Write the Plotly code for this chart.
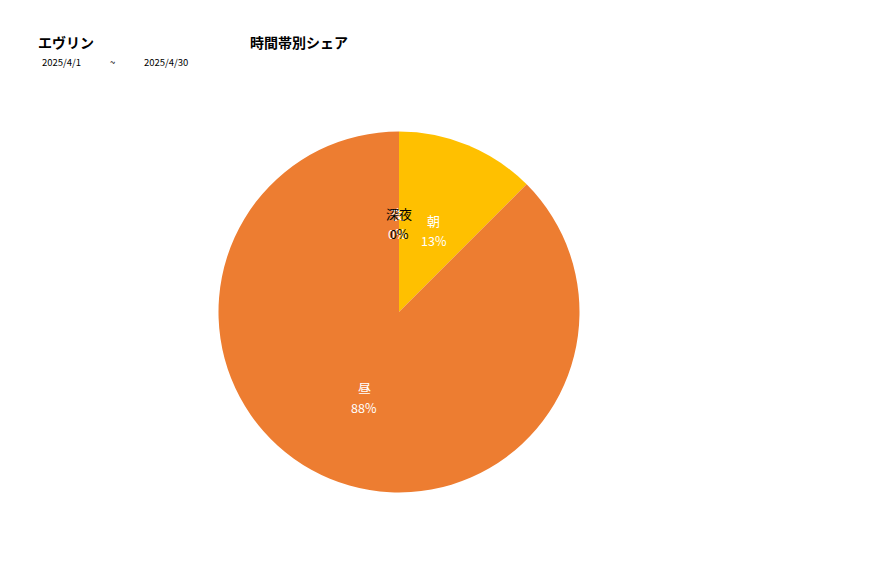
import math
import plotly.graph_objects as go

labels = ["朝", "昼", "夜", "深夜"]
values = [12.5, 87.5, 0, 0]
colors = ["#FFC000", "#ED7D31", "#E15759", "#A5A5A5"]
text_colors = ["white", "white", "white", "black"]

W, H = 877, 578
cx, cy, r = 391, 304, 180.5  # pie centre / radius in page pixels


def px(x):
    return x / W


def py(y):
    return 1 - y / H


fig = go.Figure()

fig.add_trace(go.Pie(
    labels=labels,
    values=values,
    sort=False,
    direction="clockwise",
    rotation=0,
    marker=dict(colors=colors, line=dict(width=0)),
    textinfo="none",
    hoverinfo="label+percent",
    showlegend=False,
    domain=dict(x=[px(cx - r), px(cx + r)], y=[py(cy + r), py(cy - r)]),
))

# data labels at half radius on each slice's mid angle (深夜 drawn last so it sits on top)
total = sum(values)
cum = 0
pos = []
for lab, val, tc in zip(labels, values, text_colors):
    frac = val / total
    theta = 2 * math.pi * (cum + frac / 2)
    cum += frac
    lx = cx + 0.5 * r * math.sin(theta)
    ly = cy - 0.5 * r * math.cos(theta) + 2
    pos.append((lab, frac, tc, lx, ly))

for lab, frac, tc, lx, ly in pos:
    dx = -2 if lab == "夜" else 0
    pct = "%d%%" % int(frac * 100 + 0.5)
    fig.add_annotation(x=px(lx + dx), y=py(ly - 10), xref="paper", yref="paper", text=lab,
                       showarrow=False, xanchor="center", yanchor="middle",
                       font=dict(size=13, color=tc))
    fig.add_annotation(x=px(lx + dx), y=py(ly + 10), xref="paper", yref="paper", text=pct,
                       showarrow=False, xanchor="center", yanchor="middle",
                       font=dict(size=12.5, color=tc))

fig.add_annotation(x=px(28), y=py(34), xref="paper", yref="paper", text="<b>エヴリン</b>",
                   showarrow=False, xanchor="left", yanchor="middle", font=dict(size=14, color="black"))
fig.add_annotation(x=px(240), y=py(34), xref="paper", yref="paper", text="<b>時間帯別シェア</b>",
                   showarrow=False, xanchor="left", yanchor="middle", font=dict(size=14, color="black"))
fig.add_annotation(x=px(32), y=py(54), xref="paper", yref="paper", text="2025/4/1",
                   showarrow=False, xanchor="left", yanchor="middle", font=dict(size=9.5, color="black"))
fig.add_annotation(x=px(100), y=py(54), xref="paper", yref="paper", text="~",
                   showarrow=False, xanchor="left", yanchor="middle", font=dict(size=9.5, color="black"))
fig.add_annotation(x=px(134), y=py(54), xref="paper", yref="paper", text="2025/4/30",
                   showarrow=False, xanchor="left", yanchor="middle", font=dict(size=9.5, color="black"))

fig.update_layout(
    width=W,
    height=H,
    margin=dict(l=0, r=0, t=0, b=0),
    paper_bgcolor="white",
    plot_bgcolor="white",
    font=dict(family="Noto Sans CJK JP, sans-serif", color="black"),
)

fig.write_html("out.html")
